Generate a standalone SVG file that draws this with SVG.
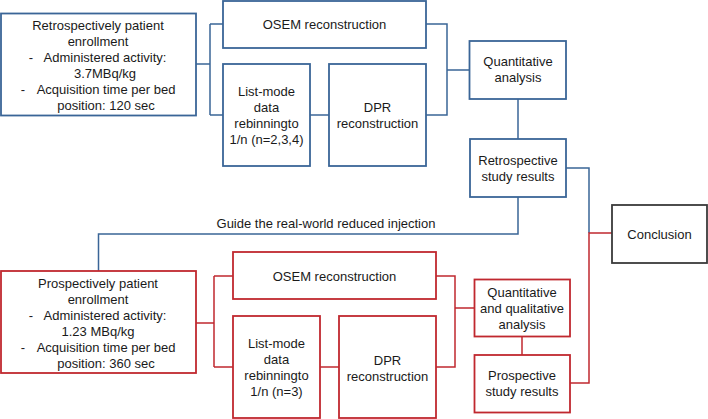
<svg xmlns="http://www.w3.org/2000/svg" width="708" height="419" viewBox="0 0 708 419">
<style>
text{font-family:"Liberation Sans",Arial,sans-serif;font-size:13px;fill:#1a1a1a;text-anchor:middle}
.b{fill:#fff;stroke:#3a6597;stroke-width:1.8}
.r{fill:#fff;stroke:#c0282f;stroke-width:1.8}
.k{fill:#fff;stroke:#3a3a3a;stroke-width:1.8}
.cb{fill:none;stroke:#3a6597;stroke-width:1.5}
.cr{fill:none;stroke:#c0282f;stroke-width:1.5}
</style>
<g id="connectors">
<path class="cb" d="M196,64H210M210,24V115M210,24H223M210,115H223"/>
<path class="cb" d="M310,115H329"/>
<path class="cb" d="M426,24H447V115H426M447,70H469"/>
<path class="cb" d="M518,99V139"/>
<path class="cb" d="M566,168H589V233"/>
<path class="cb" d="M518,197V234H98.5V271"/>
<path class="cr" d="M196,323H214M214,276V367M214,276H233M214,367H233"/>
<path class="cr" d="M320,367H339"/>
<path class="cr" d="M436,276H455V367H436M455,308H474"/>
<path class="cr" d="M522,337V355"/>
<path class="cr" d="M570,383H589V233H612"/>
<text x="326" y="228">Guide the real-world reduced injection</text>
</g>
<g id="retro-enroll">
<rect class="b" x="1" y="13.5" width="195" height="102"/>
<text x="98" y="30">Retrospectively patient</text>
<text x="98" y="46">enrollment</text>
<text x="31" y="62">-</text>
<text x="105" y="62">Administered activity:</text>
<text x="105" y="78">3.7MBq/kg</text>
<text x="23" y="94">-</text>
<text x="106" y="94">Acquisition time per bed</text>
<text x="106" y="110">position: 120 sec</text>
</g>
<g id="osem1">
<rect class="b" x="223" y="1" width="203" height="47"/>
<text x="324.5" y="29">OSEM reconstruction</text>
</g>
<g id="list1">
<rect class="b" x="223" y="64" width="87" height="102"/>
<text x="266.5" y="96">List-mode</text>
<text x="266.5" y="112">data</text>
<text x="266.5" y="128">rebinningto</text>
<text x="266.5" y="144">1/n (n=2,3,4)</text>
</g>
<g id="dpr1">
<rect class="b" x="329" y="64" width="97" height="102"/>
<text x="377.5" y="112">DPR</text>
<text x="377.5" y="128">reconstruction</text>
</g>
<g id="quant1">
<rect class="b" x="469.5" y="41" width="96.5" height="58"/>
<text x="518" y="66">Quantitative</text>
<text x="518" y="82">analysis</text>
</g>
<g id="retro-results">
<rect class="b" x="470" y="139" width="96" height="58"/>
<text x="518" y="165">Retrospective</text>
<text x="518" y="181">study results</text>
</g>
<g id="conclusion">
<rect class="k" x="612" y="205" width="95" height="58"/>
<text x="659.5" y="239">Conclusion</text>
</g>
<g id="prosp-enroll">
<rect class="r" x="1" y="271" width="195" height="102"/>
<text x="98" y="288">Prospectively patient</text>
<text x="98" y="304">enrollment</text>
<text x="31" y="320">-</text>
<text x="105" y="320">Administered activity:</text>
<text x="98" y="336">1.23 MBq/kg</text>
<text x="23" y="352">-</text>
<text x="106" y="352">Acquisition time per bed</text>
<text x="106" y="368">position: 360 sec</text>
</g>
<g id="osem2">
<rect class="r" x="233" y="252" width="203" height="47"/>
<text x="334.5" y="281">OSEM reconstruction</text>
</g>
<g id="list2">
<rect class="r" x="233" y="316" width="87" height="102"/>
<text x="276.5" y="348">List-mode</text>
<text x="276.5" y="364">data</text>
<text x="276.5" y="380">rebinningto</text>
<text x="276.5" y="396">1/n (n=3)</text>
</g>
<g id="dpr2">
<rect class="r" x="339" y="316" width="97" height="102"/>
<text x="387.5" y="365">DPR</text>
<text x="387.5" y="381">reconstruction</text>
</g>
<g id="quant2">
<rect class="r" x="474.5" y="279.5" width="95.5" height="57"/>
<text x="522" y="297">Quantitative</text>
<text x="522" y="313">and qualitative</text>
<text x="522" y="329">analysis</text>
</g>
<g id="prosp-results">
<rect class="r" x="474.5" y="355" width="95.5" height="57.5"/>
<text x="522" y="380">Prospective</text>
<text x="522" y="396">study results</text>
</g>
</svg>
